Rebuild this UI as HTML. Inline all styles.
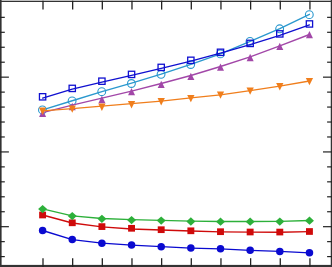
<!DOCTYPE html>
<html><head><meta charset="utf-8"><title>chart</title>
<style>
html,body{margin:0;padding:0;background:#ffffff;font-family:"Liberation Sans",sans-serif;}
svg{display:block;}
</style></head>
<body>
<svg width="332" height="267" viewBox="0 0 332 267">
<rect x="0" y="0" width="332" height="267" fill="#ffffff"/>
<rect x="0" y="0" width="1.6" height="267" fill="#333333"/>
<rect x="330.75" y="0" width="1.25" height="267" fill="#333333"/>
<rect x="0" y="0.7" width="332" height="1.3" fill="#333333"/>
<rect x="0" y="264.9" width="332" height="2.1" fill="#333333"/>
<line x1="0" x2="4.8" y1="17.35" y2="17.35" stroke="#222222" stroke-width="1.2"/>
<line x1="327.09999999999997" x2="332" y1="17.35" y2="17.35" stroke="#222222" stroke-width="1.2"/>
<line x1="0" x2="4.8" y1="32.30" y2="32.30" stroke="#222222" stroke-width="1.2"/>
<line x1="327.09999999999997" x2="332" y1="32.30" y2="32.30" stroke="#222222" stroke-width="1.2"/>
<line x1="0" x2="4.8" y1="47.26" y2="47.26" stroke="#222222" stroke-width="1.2"/>
<line x1="327.09999999999997" x2="332" y1="47.26" y2="47.26" stroke="#222222" stroke-width="1.2"/>
<line x1="0" x2="4.8" y1="62.21" y2="62.21" stroke="#222222" stroke-width="1.2"/>
<line x1="327.09999999999997" x2="332" y1="62.21" y2="62.21" stroke="#222222" stroke-width="1.2"/>
<line x1="0" x2="8.9" y1="77.16" y2="77.16" stroke="#222222" stroke-width="1.2"/>
<line x1="323.0" x2="332" y1="77.16" y2="77.16" stroke="#222222" stroke-width="1.2"/>
<line x1="0" x2="4.8" y1="92.12" y2="92.12" stroke="#222222" stroke-width="1.2"/>
<line x1="327.09999999999997" x2="332" y1="92.12" y2="92.12" stroke="#222222" stroke-width="1.2"/>
<line x1="0" x2="4.8" y1="107.07" y2="107.07" stroke="#222222" stroke-width="1.2"/>
<line x1="327.09999999999997" x2="332" y1="107.07" y2="107.07" stroke="#222222" stroke-width="1.2"/>
<line x1="0" x2="4.8" y1="122.02" y2="122.02" stroke="#222222" stroke-width="1.2"/>
<line x1="327.09999999999997" x2="332" y1="122.02" y2="122.02" stroke="#222222" stroke-width="1.2"/>
<line x1="0" x2="4.8" y1="136.97" y2="136.97" stroke="#222222" stroke-width="1.2"/>
<line x1="327.09999999999997" x2="332" y1="136.97" y2="136.97" stroke="#222222" stroke-width="1.2"/>
<line x1="0" x2="8.9" y1="151.93" y2="151.93" stroke="#222222" stroke-width="1.2"/>
<line x1="323.0" x2="332" y1="151.93" y2="151.93" stroke="#222222" stroke-width="1.2"/>
<line x1="0" x2="4.8" y1="166.88" y2="166.88" stroke="#222222" stroke-width="1.2"/>
<line x1="327.09999999999997" x2="332" y1="166.88" y2="166.88" stroke="#222222" stroke-width="1.2"/>
<line x1="0" x2="4.8" y1="181.83" y2="181.83" stroke="#222222" stroke-width="1.2"/>
<line x1="327.09999999999997" x2="332" y1="181.83" y2="181.83" stroke="#222222" stroke-width="1.2"/>
<line x1="0" x2="4.8" y1="196.79" y2="196.79" stroke="#222222" stroke-width="1.2"/>
<line x1="327.09999999999997" x2="332" y1="196.79" y2="196.79" stroke="#222222" stroke-width="1.2"/>
<line x1="0" x2="4.8" y1="211.74" y2="211.74" stroke="#222222" stroke-width="1.2"/>
<line x1="327.09999999999997" x2="332" y1="211.74" y2="211.74" stroke="#222222" stroke-width="1.2"/>
<line x1="0" x2="8.9" y1="226.69" y2="226.69" stroke="#222222" stroke-width="1.2"/>
<line x1="323.0" x2="332" y1="226.69" y2="226.69" stroke="#222222" stroke-width="1.2"/>
<line x1="0" x2="4.8" y1="241.64" y2="241.64" stroke="#222222" stroke-width="1.2"/>
<line x1="327.09999999999997" x2="332" y1="241.64" y2="241.64" stroke="#222222" stroke-width="1.2"/>
<line x1="0" x2="4.8" y1="256.60" y2="256.60" stroke="#222222" stroke-width="1.2"/>
<line x1="327.09999999999997" x2="332" y1="256.60" y2="256.60" stroke="#222222" stroke-width="1.2"/>
<line x1="43.00" x2="43.00" y1="0.7" y2="9.6" stroke="#222222" stroke-width="1.3"/>
<line x1="43.00" x2="43.00" y1="258.2" y2="267" stroke="#222222" stroke-width="1.3"/>
<line x1="72.66" x2="72.66" y1="0.7" y2="9.6" stroke="#222222" stroke-width="1.3"/>
<line x1="72.66" x2="72.66" y1="258.2" y2="267" stroke="#222222" stroke-width="1.3"/>
<line x1="102.32" x2="102.32" y1="0.7" y2="9.6" stroke="#222222" stroke-width="1.3"/>
<line x1="102.32" x2="102.32" y1="258.2" y2="267" stroke="#222222" stroke-width="1.3"/>
<line x1="131.98" x2="131.98" y1="0.7" y2="9.6" stroke="#222222" stroke-width="1.3"/>
<line x1="131.98" x2="131.98" y1="258.2" y2="267" stroke="#222222" stroke-width="1.3"/>
<line x1="161.64" x2="161.64" y1="0.7" y2="9.6" stroke="#222222" stroke-width="1.3"/>
<line x1="161.64" x2="161.64" y1="258.2" y2="267" stroke="#222222" stroke-width="1.3"/>
<line x1="191.30" x2="191.30" y1="0.7" y2="9.6" stroke="#222222" stroke-width="1.3"/>
<line x1="191.30" x2="191.30" y1="258.2" y2="267" stroke="#222222" stroke-width="1.3"/>
<line x1="220.96" x2="220.96" y1="0.7" y2="9.6" stroke="#222222" stroke-width="1.3"/>
<line x1="220.96" x2="220.96" y1="258.2" y2="267" stroke="#222222" stroke-width="1.3"/>
<line x1="250.62" x2="250.62" y1="0.7" y2="9.6" stroke="#222222" stroke-width="1.3"/>
<line x1="250.62" x2="250.62" y1="258.2" y2="267" stroke="#222222" stroke-width="1.3"/>
<line x1="280.28" x2="280.28" y1="0.7" y2="9.6" stroke="#222222" stroke-width="1.3"/>
<line x1="280.28" x2="280.28" y1="258.2" y2="267" stroke="#222222" stroke-width="1.3"/>
<line x1="309.94" x2="309.94" y1="0.7" y2="9.6" stroke="#222222" stroke-width="1.3"/>
<line x1="309.94" x2="309.94" y1="258.2" y2="267" stroke="#222222" stroke-width="1.3"/>
<polyline points="42.60,230.50 72.25,239.60 101.90,243.20 131.55,245.05 161.20,246.70 190.85,248.10 220.50,248.85 250.15,250.30 279.80,251.40 309.45,252.80" fill="none" stroke="#0a0ad0" stroke-width="1.35" stroke-linejoin="round" stroke-linecap="round"/>
<circle cx="42.6" cy="230.5" r="3.75" fill="#0a0ad0"/>
<circle cx="72.25" cy="239.6" r="3.75" fill="#0a0ad0"/>
<circle cx="101.9" cy="243.2" r="3.75" fill="#0a0ad0"/>
<circle cx="131.55" cy="245.05" r="3.75" fill="#0a0ad0"/>
<circle cx="161.2" cy="246.7" r="3.75" fill="#0a0ad0"/>
<circle cx="190.85" cy="248.1" r="3.75" fill="#0a0ad0"/>
<circle cx="220.5" cy="248.85" r="3.75" fill="#0a0ad0"/>
<circle cx="250.15" cy="250.3" r="3.75" fill="#0a0ad0"/>
<circle cx="279.8" cy="251.4" r="3.75" fill="#0a0ad0"/>
<circle cx="309.45" cy="252.8" r="3.75" fill="#0a0ad0"/>
<polyline points="42.60,215.00 72.25,223.00 101.90,226.90 131.55,229.00 161.20,230.00 190.85,231.00 220.50,231.90 250.15,232.20 279.80,232.20 309.45,231.60" fill="none" stroke="#cf0a0a" stroke-width="1.35" stroke-linejoin="round" stroke-linecap="round"/>
<rect x="39.15" y="211.65" width="6.9" height="6.7" fill="#cf0a0a"/>
<rect x="68.80" y="219.45" width="6.9" height="6.7" fill="#cf0a0a"/>
<rect x="98.45" y="223.25" width="6.9" height="6.7" fill="#cf0a0a"/>
<rect x="128.10" y="224.95" width="6.9" height="6.7" fill="#cf0a0a"/>
<rect x="157.75" y="226.35" width="6.9" height="6.7" fill="#cf0a0a"/>
<rect x="187.40" y="227.45" width="6.9" height="6.7" fill="#cf0a0a"/>
<rect x="217.05" y="228.35" width="6.9" height="6.7" fill="#cf0a0a"/>
<rect x="246.70" y="228.65" width="6.9" height="6.7" fill="#cf0a0a"/>
<rect x="276.35" y="228.70" width="6.9" height="6.7" fill="#cf0a0a"/>
<rect x="306.00" y="228.15" width="6.9" height="6.7" fill="#cf0a0a"/>
<polyline points="42.60,208.85 72.25,215.90 101.90,218.50 131.55,219.60 161.20,220.30 190.85,221.20 220.50,221.50 250.15,221.50 279.80,221.40 309.45,220.50" fill="none" stroke="#2db03a" stroke-width="1.35" stroke-linejoin="round" stroke-linecap="round"/>
<polygon points="38.10,209.05 42.60,204.90 47.10,209.05 42.60,213.20" fill="#2db03a"/>
<polygon points="67.75,216.10 72.25,211.95 76.75,216.10 72.25,220.25" fill="#2db03a"/>
<polygon points="97.40,218.80 101.90,214.65 106.40,218.80 101.90,222.95" fill="#2db03a"/>
<polygon points="127.05,220.10 131.55,215.95 136.05,220.10 131.55,224.25" fill="#2db03a"/>
<polygon points="156.70,220.60 161.20,216.45 165.70,220.60 161.20,224.75" fill="#2db03a"/>
<polygon points="186.35,221.50 190.85,217.35 195.35,221.50 190.85,225.65" fill="#2db03a"/>
<polygon points="216.00,221.70 220.50,217.55 225.00,221.70 220.50,225.85" fill="#2db03a"/>
<polygon points="245.65,221.70 250.15,217.55 254.65,221.70 250.15,225.85" fill="#2db03a"/>
<polygon points="275.30,221.60 279.80,217.45 284.30,221.60 279.80,225.75" fill="#2db03a"/>
<polygon points="304.95,220.65 309.45,216.50 313.95,220.65 309.45,224.80" fill="#2db03a"/>
<polyline points="42.60,109.90 72.25,100.75 101.90,91.65 131.55,83.20 161.20,74.20 190.85,64.40 220.50,53.80 250.15,41.30 279.80,28.60 309.45,14.30" fill="none" stroke="#2a98ce" stroke-width="1.35" stroke-linejoin="round" stroke-linecap="round"/>
<circle cx="42.45" cy="109.9" r="3.9" fill="none" stroke="#2a98ce" stroke-width="1.1"/>
<circle cx="72.10" cy="100.9" r="3.9" fill="none" stroke="#2a98ce" stroke-width="1.1"/>
<circle cx="101.75" cy="91.7" r="3.9" fill="none" stroke="#2a98ce" stroke-width="1.1"/>
<circle cx="131.40" cy="83.5" r="3.9" fill="none" stroke="#2a98ce" stroke-width="1.1"/>
<circle cx="161.05" cy="74.3" r="3.9" fill="none" stroke="#2a98ce" stroke-width="1.1"/>
<circle cx="190.70" cy="64.5" r="3.9" fill="none" stroke="#2a98ce" stroke-width="1.1"/>
<circle cx="220.35" cy="53.9" r="3.9" fill="none" stroke="#2a98ce" stroke-width="1.1"/>
<circle cx="250.00" cy="41.4" r="3.9" fill="none" stroke="#2a98ce" stroke-width="1.1"/>
<circle cx="279.65" cy="28.8" r="3.9" fill="none" stroke="#2a98ce" stroke-width="1.1"/>
<circle cx="309.30" cy="14.67" r="3.9" fill="none" stroke="#2a98ce" stroke-width="1.1"/>
<polyline points="42.60,98.10 72.25,89.20 101.90,82.20 131.55,75.30 161.20,68.30 190.85,61.20 220.50,53.20 250.15,44.60 279.80,35.40 309.45,24.90" fill="none" stroke="#1010d0" stroke-width="1.35" stroke-linejoin="round" stroke-linecap="round"/>
<rect x="39.45" y="93.65" width="6.3" height="6.3" fill="none" stroke="#1010d0" stroke-width="1.3"/>
<rect x="69.10" y="85.25" width="6.3" height="6.3" fill="none" stroke="#1010d0" stroke-width="1.3"/>
<rect x="98.75" y="78.05" width="6.3" height="6.3" fill="none" stroke="#1010d0" stroke-width="1.3"/>
<rect x="128.40" y="71.25" width="6.3" height="6.3" fill="none" stroke="#1010d0" stroke-width="1.3"/>
<rect x="158.05" y="64.25" width="6.3" height="6.3" fill="none" stroke="#1010d0" stroke-width="1.3"/>
<rect x="187.70" y="57.15" width="6.3" height="6.3" fill="none" stroke="#1010d0" stroke-width="1.3"/>
<rect x="217.35" y="49.15" width="6.3" height="6.3" fill="none" stroke="#1010d0" stroke-width="1.3"/>
<rect x="247.00" y="40.25" width="6.3" height="6.3" fill="none" stroke="#1010d0" stroke-width="1.3"/>
<rect x="276.65" y="30.75" width="6.3" height="6.3" fill="none" stroke="#1010d0" stroke-width="1.3"/>
<rect x="306.30" y="20.80" width="6.3" height="6.3" fill="none" stroke="#1010d0" stroke-width="1.3"/>
<polyline points="42.60,112.65 72.25,105.10 101.90,98.10 131.55,91.05 161.20,83.50 190.85,75.50 220.50,66.50 250.15,56.95 279.80,45.85 309.45,34.50" fill="none" stroke="#a247a8" stroke-width="1.35" stroke-linejoin="round" stroke-linecap="round"/>
<polygon points="39.10,116.95 46.10,116.95 42.60,109.60" fill="#a247a8"/>
<polygon points="68.75,110.20 75.75,110.20 72.25,102.85" fill="#a247a8"/>
<polygon points="98.40,103.15 105.40,103.15 101.90,95.80" fill="#a247a8"/>
<polygon points="128.05,95.25 135.05,95.25 131.55,87.90" fill="#a247a8"/>
<polygon points="157.70,88.05 164.70,88.05 161.20,80.70" fill="#a247a8"/>
<polygon points="187.35,80.00 194.35,80.00 190.85,72.65" fill="#a247a8"/>
<polygon points="217.00,70.75 224.00,70.75 220.50,63.40" fill="#a247a8"/>
<polygon points="246.65,61.20 253.65,61.20 250.15,53.85" fill="#a247a8"/>
<polygon points="276.30,50.10 283.30,50.10 279.80,42.75" fill="#a247a8"/>
<polygon points="305.95,38.35 312.95,38.35 309.45,31.00" fill="#a247a8"/>
<polyline points="42.60,110.80 72.25,108.70 101.90,106.20 131.55,103.70 161.20,101.10 190.85,97.90 220.50,94.80 250.15,90.70 279.80,86.20 309.45,81.00" fill="none" stroke="#f07e1c" stroke-width="1.35" stroke-linejoin="round" stroke-linecap="round"/>
<polygon points="38.95,107.60 46.25,107.60 42.60,115.05" fill="#f07e1c"/>
<polygon points="68.60,105.40 75.90,105.40 72.25,112.85" fill="#f07e1c"/>
<polygon points="98.25,103.60 105.55,103.60 101.90,111.05" fill="#f07e1c"/>
<polygon points="127.90,100.95 135.20,100.95 131.55,108.40" fill="#f07e1c"/>
<polygon points="157.55,98.10 164.85,98.10 161.20,105.55" fill="#f07e1c"/>
<polygon points="187.20,94.90 194.50,94.90 190.85,102.35" fill="#f07e1c"/>
<polygon points="216.85,91.40 224.15,91.40 220.50,98.85" fill="#f07e1c"/>
<polygon points="246.50,87.40 253.80,87.40 250.15,94.85" fill="#f07e1c"/>
<polygon points="276.15,82.95 283.45,82.95 279.80,90.40" fill="#f07e1c"/>
<polygon points="305.80,77.90 313.10,77.90 309.45,85.35" fill="#f07e1c"/>
</svg>
</body></html>
